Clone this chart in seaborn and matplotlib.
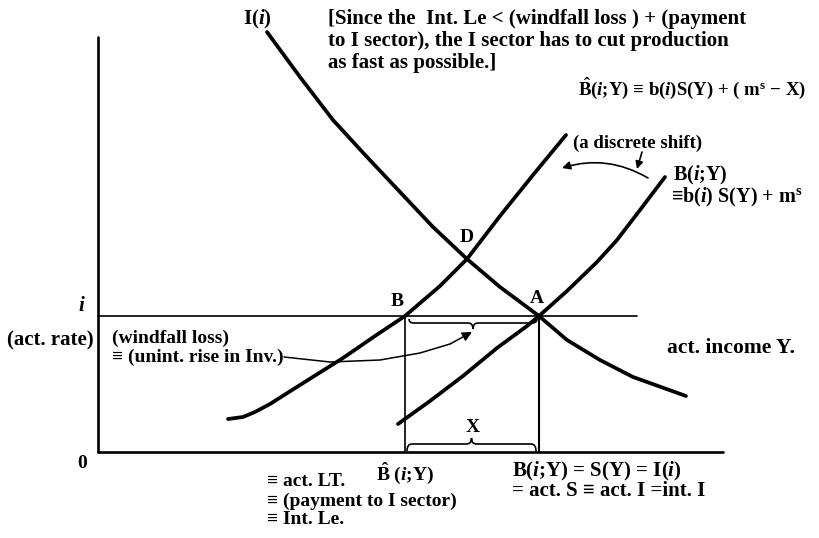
import matplotlib
matplotlib.use("Agg")
import matplotlib.pyplot as plt
import pandas as pd
import seaborn as sns
from matplotlib.path import Path
from matplotlib.patches import PathPatch

# Curves (x = quantity, y = interest rate)
i_x = [16.9, 20.2, 23.5, 26.9, 30.2, 33.5, 36.9, 40.2, 44.1, 46.9, 50.2, 53.5, 58.8]
i_y = [42.0, 37.5, 33.2, 29.5, 26.0, 22.5, 19.3, 16.5, 13.6, 11.2, 9.2, 7.5, 5.6]
bhat_x = [13.0, 14.5, 15.7, 17.2, 20.2, 24.5, 27.7, 30.7, 34.2, 36.9, 40.2, 43.5, 46.8]
bhat_y = [3.3, 3.5, 4.0, 4.8, 6.7, 9.4, 11.6, 13.6, 16.6, 19.3, 23.6, 27.7, 31.7]
b_x = [30.0, 33.2, 36.5, 39.9, 42.9, 44.1, 46.9, 49.9, 51.9, 54.2, 56.7]
b_y = [2.8, 5.1, 7.6, 10.4, 12.6, 13.6, 16.1, 19.0, 21.2, 24.2, 27.5]
windfall_x = [18.6, 23.2, 28.2, 32.2, 35.2]
windfall_y = [9.5, 9.0, 9.2, 9.9, 10.8]

rate_i = 13.6          # actual rate
x_B = 30.7             # B-hat(i;Y)
x_A = 44.1             # B(i;Y)
x_axis_end = 62.5
y_axis_end = 41.5
rate_line_end = 53.9

sns.set_theme(style="white")
plt.rcParams["font.family"] = ["Liberation Serif", "DejaVu Serif"]
plt.rcParams["font.weight"] = "bold"
plt.rcParams["mathtext.fontset"] = "custom"
plt.rcParams["mathtext.rm"] = "Liberation Serif:bold"
plt.rcParams["mathtext.it"] = "Liberation Serif:italic:bold"
plt.rcParams["mathtext.bf"] = "Liberation Serif:bold"


def P(x, y):
    # pixel position of the 820x538 picture -> data units
    return (x - 98) / 10, (452 - y) / 10


def brace(ax, x0, x1, y_end, y_body, y_tip, lw=1.2):
    xm = (x0 + x1) / 2
    r = 0.5
    verts = [(x0, y_end), (x0, y_body), (x0 + r, y_body),
             (xm - r, y_body),
             (xm, y_body), (xm, y_tip),
             (xm, y_body), (xm + r, y_body),
             (x1 - r, y_body),
             (x1, y_body), (x1, y_end)]
    codes = [Path.MOVETO, Path.CURVE3, Path.CURVE3,
             Path.LINETO,
             Path.CURVE3, Path.CURVE3,
             Path.CURVE3, Path.CURVE3,
             Path.LINETO,
             Path.CURVE3, Path.CURVE3]
    ax.add_patch(PathPatch(Path(verts, codes), fill=False, lw=lw, color="black"))


fig = plt.figure(figsize=(8.2, 5.38), dpi=100)
ax = fig.add_axes([0, 0, 1, 1])

# axes
ax.plot([0, 0], [0, y_axis_end], color="black", lw=1.9)
ax.plot([0, x_axis_end], [0, 0], color="black", lw=1.9)

# rate line and verticals
ax.plot([0, rate_line_end], [rate_i, rate_i], color="black", lw=1.2)
ax.plot([x_B, x_B], [0, rate_i], color="black", lw=1.2)
ax.plot([x_A, x_A], [0, rate_i], color="black", lw=1.5)

# curves I(i), B-hat(i;Y), B(i;Y)
for cx, cy in [(i_x, i_y), (bhat_x, bhat_y), (b_x, b_y)]:
    curve = pd.DataFrame({"x": cx, "y": cy})
    sns.lineplot(data=curve, x="x", y="y", ax=ax, color="black", lw=2.7,
                 sort=False, estimator=None)

# windfall arrow
sns.lineplot(x=windfall_x, y=windfall_y, ax=ax, color="black", lw=1.1,
             sort=False, estimator=None)
ax.annotate("", xy=P(472, 332), xytext=(windfall_x[-1], windfall_y[-1]),
            arrowprops=dict(arrowstyle="-|>", color="black", lw=1.1,
                            mutation_scale=14, shrinkA=0, shrinkB=0))

ax.set_xlim(-9.8, 72.2)
ax.set_ylim(-8.6, 45.2)
ax.axis("off")

# braces
brace(ax, x_B + 0.4, x_A - 0.2, rate_i - 0.3, rate_i - 0.7, rate_i - 1.3)
brace(ax, x_B + 0.2, x_A - 0.3, 0.1, 0.8, 1.4)

# discrete shift arrow
ax.annotate("", xy=P(562, 168), xytext=P(648, 178),
            arrowprops=dict(arrowstyle="-|>", color="black", lw=1.2,
                            mutation_scale=12, shrinkA=0, shrinkB=0,
                            connectionstyle="arc3,rad=0.22"))
ax.annotate("", xy=P(637, 169), xytext=P(642, 152),
            arrowprops=dict(arrowstyle="-|>", color="black", lw=1.2,
                            mutation_scale=11, shrinkA=0, shrinkB=0))

kw = dict(fontweight="bold", color="black", va="center")

ax.text(*P(257, 19), r"I($\mathit{i}$)", ha="center", fontsize=15, **kw)
ax.text(*P(328, 19), "[Since the  Int. Le < (windfall loss ) + (payment", ha="left", fontsize=15, **kw)
ax.text(*P(328, 41), "to I sector), the I sector has to cut production", ha="left", fontsize=15, **kw)
ax.text(*P(328, 63), "as fast as possible.]", ha="left", fontsize=15, **kw)

ax.text(*P(578, 88), r"$\hat{\mathrm{B}}$($\mathit{i}$;Y) ≡ b($\mathit{i}$)S(Y) + ( m$^{\mathrm{s}}$ − X)",
        ha="left", fontsize=13.5, **kw)
ax.text(*P(573, 143), "(a discrete shift)", ha="left", fontsize=13.5, **kw)
ax.text(*P(673, 175), r"B($\mathit{i}$;Y)", ha="left", fontsize=14.5, **kw)
ax.text(*P(671, 197), r"≡b($\mathit{i}$) S(Y) + m$^{\mathrm{s}}$", ha="left", fontsize=14.5, **kw)

ax.text(*P(467, 237), "D", ha="center", fontsize=14, **kw)
ax.text(*P(397, 301), "B", ha="center", fontsize=14, **kw)
ax.text(*P(537, 298), "A", ha="center", fontsize=14, **kw)
ax.text(*P(473, 427), "X", ha="center", fontsize=14, **kw)

ax.text(*P(82, 306), r"$\mathit{i}$", ha="center", fontsize=15, **kw)
ax.text(*P(7, 340), "(act. rate)", ha="left", fontsize=15, **kw)
ax.text(*P(112, 338), "(windfall loss)", ha="left", fontsize=14, **kw)
ax.text(*P(112, 357), "≡ (unint. rise in Inv.)", ha="left", fontsize=14, **kw)
ax.text(*P(667, 348), "act. income Y.", ha="left", fontsize=15.5, **kw)
ax.text(*P(82, 463), "0", ha="center", fontsize=14, **kw)

ax.text(*P(405, 473), r"$\hat{\mathrm{B}}$ ($\mathit{i}$;Y)", ha="center", fontsize=14, **kw)
ax.text(*P(267, 482), "≡ act. LT.", ha="left", fontsize=14, **kw)
ax.text(*P(267, 501), "≡ (payment to I sector)", ha="left", fontsize=14, **kw)
ax.text(*P(267, 520), "≡ Int. Le.", ha="left", fontsize=14, **kw)
ax.text(*P(512, 471), r"B($\mathit{i}$;Y) = S(Y) = I($\mathit{i}$)", ha="left", fontsize=15, **kw)
ax.text(*P(512, 491), "= act. S ≡ act. I =int. I", ha="left", fontsize=15, **kw)

fig.savefig("out.png", dpi=100)
